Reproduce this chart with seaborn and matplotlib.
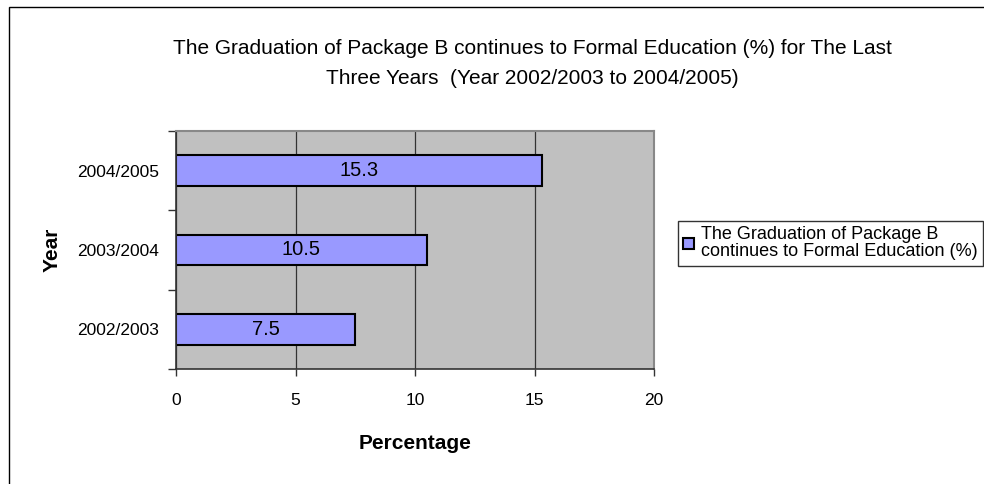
import pandas as pd
import seaborn as sns
import matplotlib.pyplot as plt
from matplotlib.patches import Rectangle

# Data
years = ["2004/2005", "2003/2004", "2002/2003"]
percentages = [15.3, 10.5, 7.5]
series_name = "The Graduation of Package B\ncontinues to Formal Education (%)"
x_ticks = [0, 5, 10, 15, 20]

df = pd.DataFrame({"Year": years, "Percentage": percentages})

sns.set_style("white")
plt.rcParams["font.family"] = ["Liberation Sans", "DejaVu Sans"]
plt.rcParams.update({"text.color": "black", "axes.labelcolor": "black",
                     "xtick.color": "black", "ytick.color": "black"})

fig = plt.figure(figsize=(9.84, 4.84), dpi=100)
ax = fig.add_axes([176 / 984, 115 / 484, 478 / 984, 238 / 484])
ax.set_facecolor("#C0C0C0")

sns.barplot(data=df, x="Percentage", y="Year", order=years, orient="h",
            color="#9999FF", edgecolor="black", linewidth=1.5, width=0.39,
            saturation=1, label=series_name, ax=ax)

# Value labels inside the bars
for cont in ax.containers:
    ax.bar_label(cont, labels=[f"{v:g}" for v in percentages],
                 label_type="center", fontsize=14.5)

ax.set_xlim(0, 20)
ax.set_ylim(2.5, -0.5)
ax.set_xticks(x_ticks)
ax.xaxis.grid(True, color="#333333", linewidth=0.9)
ax.set_axisbelow(True)

# Category boundary ticks on the y axis
ax.set_yticks([-0.5, 0.5, 1.5, 2.5], minor=True)
ax.tick_params(axis="y", which="major", length=0, pad=12, labelsize=12.5)
ax.tick_params(axis="y", which="minor", length=6, width=1, direction="out",
               left=True, color="#333333")
ax.tick_params(axis="x", length=5, width=1, direction="out", bottom=True,
               labelsize=12.5, pad=12, color="#333333")

for side in ["left", "bottom"]:
    ax.spines[side].set_color("#333333")
    ax.spines[side].set_linewidth(1.2)
for side in ["top", "right"]:
    ax.spines[side].set_color("#888888")
    ax.spines[side].set_linewidth(1.5)

ax.set_xlabel("Percentage", fontsize=15, fontweight="bold", labelpad=19)
ax.set_ylabel("Year", fontsize=15, fontweight="bold", labelpad=11)

fig.text(532 / 984, 1 - 63.5 / 484,
         "The Graduation of Package B continues to Formal Education (%) for The Last\n"
         "Three Years  (Year 2002/2003 to 2004/2005)",
         ha="center", va="center", fontsize=15, linespacing=1.75)

leg = ax.legend(loc="upper left", bbox_to_anchor=(678 / 984, 1 - 221 / 484),
                bbox_transform=fig.transFigure, frameon=True, fancybox=False,
                fontsize=13, handlelength=0.6, handleheight=0.6,
                handletextpad=0.35, borderpad=0.3, borderaxespad=0,
                labelspacing=0.2)
leg.get_frame().set_edgecolor("black")
leg.get_frame().set_linewidth(1)
for t in leg.get_texts():
    t.set_linespacing(1.0)

# Outer chart border
fig.patches.append(Rectangle((9 / 984, -0.01), 980 / 984, 1 - 7 / 484 + 0.01,
                             transform=fig.transFigure, fill=False,
                             edgecolor="black", linewidth=1))

plt.savefig("out.png", dpi=100)
